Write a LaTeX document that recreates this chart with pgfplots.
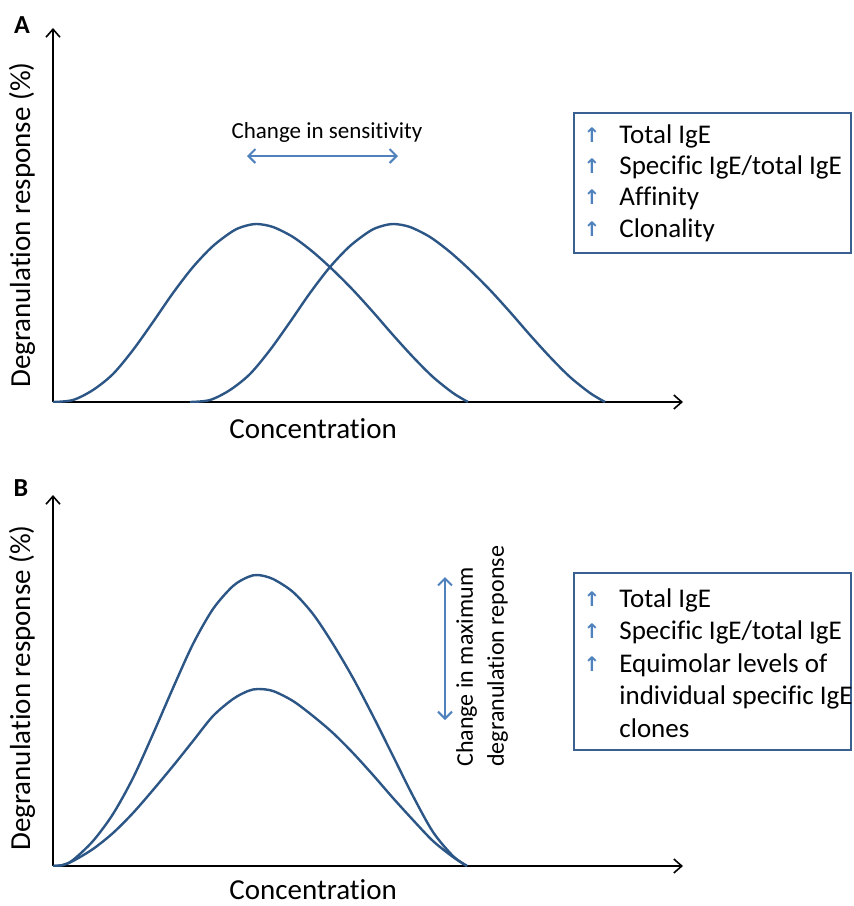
\documentclass[border=0pt]{standalone}
\usepackage{pgfplots}
\pgfplotsset{compat=1.18}
\usetikzlibrary{arrows.meta}
\usepackage{fontspec}
\setmainfont{Carlito}[Ligatures=CommonOff]
\newfontfamily\symfont{DejaVu Sans Bold}
\definecolor{curve}{RGB}{44,86,134}
\definecolor{lblue}{RGB}{79,129,189}
\definecolor{boxc}{RGB}{58,96,146}

\pgfplotsset{panel/.style={
    scale only axis, width=315pt,
    axis lines=left, xtick=\empty, ytick=\empty,
    xmin=0, xmax=630, ymin=0,
    axis line style={line width=1pt, -{Straight Barb[length=4pt,width=7pt,line width=0.8pt]}},
    label style={font=\fontsize{14.5}{17}\selectfont},
  },
  bell/.style={curve, line width=1.2pt, smooth, tension=0.5, mark=none}}

\begin{document}
\begin{tikzpicture}[x=0.5pt,y=-0.5pt]
\useasboundingbox (0,0) rectangle (853,906);

% panel A
\begin{axis}[panel, at={(26.5pt,-201pt)}, anchor=south west,
    height=187pt, ymax=374,
    xlabel={Concentration}, ylabel={Degranulation response (\%)},
    xlabel style={at={(axis description cs:0.413,-0.07)}, anchor=center},
    ylabel style={at={(axis description cs:-0.049,0.473)}, anchor=center}]
\addplot[bell] coordinates {(0,0) (20,2) (40,12) (60,28) (80,52) (100,80)
  (120,109) (140,135) (160,156) (180,171) (192,176) (204,178) (220,175)
  (240,165) (260,150) (280,132) (300,112) (320,90) (340,67) (360,45)
  (380,25) (400,9) (415,0)};
\addplot[bell] coordinates {(137,0) (157,2) (177,12) (197,28) (217,52) (237,80)
  (257,109) (277,135) (297,156) (317,171) (329,176) (341,178) (357,175)
  (377,165) (397,150) (417,132) (437,112) (457,90) (477,67) (497,45)
  (517,25) (537,9) (552,0)};
\end{axis}

% panel B
\begin{axis}[panel, at={(26.5pt,-433pt)}, anchor=south west,
    height=185.5pt, ymax=371,
    xlabel={Concentration}, ylabel={Degranulation response (\%)},
    xlabel style={at={(axis description cs:0.413,-0.065)}, anchor=center},
    ylabel style={at={(axis description cs:-0.049,0.48)}, anchor=center}]
\addplot[bell] coordinates {(0,0) (10,1) (20,6) (40,25) (60,52) (80,88)
  (100,132) (120,178) (140,222) (160,257) (180,280) (195,289) (205,291)
  (220,287) (240,274) (260,252) (280,222) (300,188) (320,150) (340,110)
  (360,70) (380,34) (400,10) (414,0)};
\addplot[bell] coordinates {(0,0) (10,1) (20,5) (40,17) (60,33) (80,53)
  (100,76) (120,100) (140,125) (160,150) (180,167) (195,175) (205,177)
  (220,175) (240,165) (260,150) (280,133) (300,113) (320,91) (340,68)
  (360,46) (380,25) (400,9) (414,0)};
\end{axis}

% panel letters
\node[font=\bfseries\fontsize{13}{15}\selectfont] at (22,25) {A};
\node[font=\bfseries\fontsize{13}{15}\selectfont] at (21,488) {B};

% sensitivity arrow
\node[font=\fontsize{11.5}{14}\selectfont] at (327,132) {Change in sensitivity};
\draw[lblue, line width=1pt, {Straight Barb[length=3.5pt,width=7pt]}-{Straight Barb[length=3.5pt,width=7pt]}] (247,156) -- (398,156);

% maximum arrow
\draw[lblue, line width=1pt, {Straight Barb[length=3.5pt,width=7pt]}-{Straight Barb[length=3.5pt,width=7pt]}] (445,577) -- (445,720);
\node[rotate=90, anchor=west, align=left, font=\fontsize{12}{15.5}\selectfont, inner sep=0pt]
  at (482,767) {Change in maximum\\degranulation reponse};

% legend boxes
\draw[boxc, line width=1pt] (574,113) rectangle (851,253);
\draw[boxc, line width=1pt] (574,573) rectangle (851,750);

\foreach \b/\t in {143/{Total IgE}, 174/{Specific IgE/total IgE}, 205/{Affinity}, 237/{Clonality}}{
  \node[anchor=base west, inner sep=0pt, font=\fontsize{13.5}{16}\selectfont] at (619,\b) {\t};
  \node[text=lblue, inner sep=0pt, font=\symfont\fontsize{10}{11}\selectfont] at (592,\b-8) {↑};
}
\foreach \b/\t in {607/{Total IgE}, 639/{Specific IgE/total IgE}, 672/{Equimolar levels of}}{
  \node[anchor=base west, inner sep=0pt, font=\fontsize{13.5}{16}\selectfont] at (619,\b) {\t};
  \node[text=lblue, inner sep=0pt, font=\symfont\fontsize{10}{11}\selectfont] at (592,\b-8) {↑};
}
\node[anchor=base west, inner sep=0pt, font=\fontsize{13.5}{16}\selectfont] at (619,704) {individual specific IgE};
\node[anchor=base west, inner sep=0pt, font=\fontsize{13.5}{16}\selectfont] at (619,737) {clones};
\end{tikzpicture}
\end{document}
